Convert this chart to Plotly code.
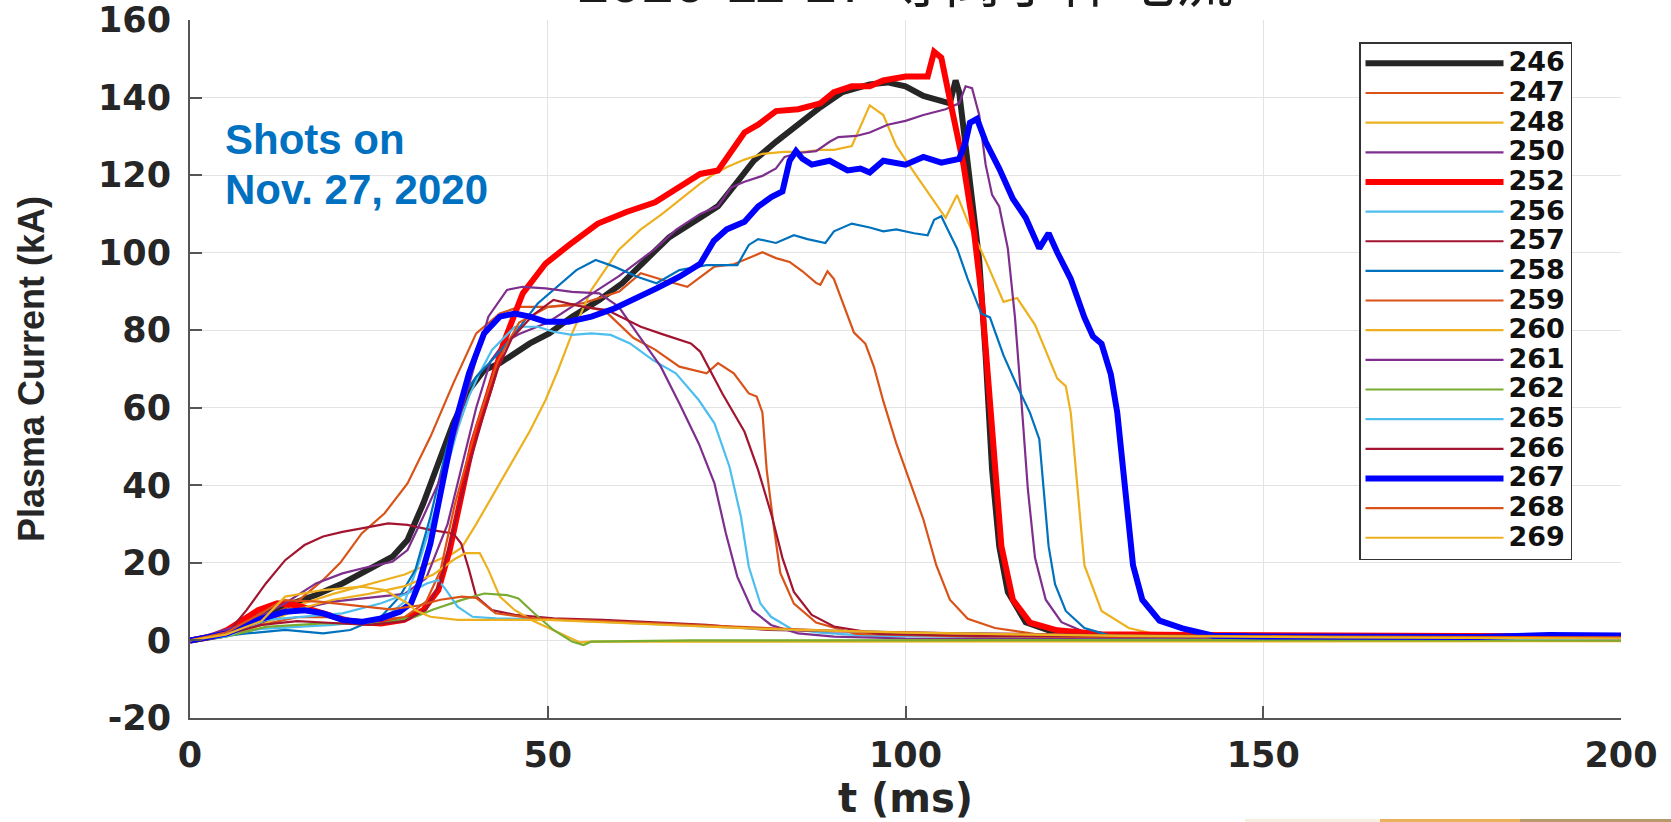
import plotly.graph_objects as go

# ---------------- data ----------------
shots = ["246", "247", "248", "250", "252", "256", "257", "258", "259",
         "260", "261", "262", "265", "266", "267", "268", "269"]

t_246 = [0, 3, 5, 8, 10, 13, 17.6, 21.3, 25, 28.3, 30.4, 32.6, 34.7, 36.8, 39, 41.1, 43.3, 45.4, 47.5, 50.2, 53.4, 57.2, 60.4, 64.2, 67, 71.3, 73.8, 76.3, 78.8, 81.9, 85, 88.1, 91.2, 95, 97.5, 100, 102.5, 105, 106.2, 107, 107.5, 108.4, 109.3, 110.3, 111.2, 112.1, 113.1, 114.3, 116.8, 120.6, 127.4, 140, 160, 180, 200]
i_246 = [0, 0.8, 1.5, 4.4, 6.5, 8.7, 11.7, 14.7, 18.2, 21.6, 25.9, 35.3, 45.7, 56, 64.6, 69.7, 71.5, 74, 76.6, 79.2, 83.5, 87.8, 92.1, 99, 104, 109, 112, 117.8, 123.7, 128.6, 133, 137.5, 141.4, 143.4, 143.9, 142.9, 140.4, 139, 138.5, 144.4, 141.4, 127.6, 112.9, 98.1, 73.5, 44, 24.3, 12.5, 4.7, 2.2, 1.2, 1.0, 0.9, 0.8, 0.7]

t_247 = [0, 5, 10, 15, 18.6, 21, 24, 27.2, 30.4, 33.6, 36.8, 40, 43.3, 46, 50, 55, 60, 63, 66, 69.5, 73.3, 76, 78.1, 80, 81.9, 83.8, 85.6, 87.5, 88.1, 89.1, 90, 91.2, 92.8, 94.4, 95.6, 96.9, 98.7, 100.6, 102.5, 104.3, 106.2, 108.7, 112.5, 118, 130, 160, 200]
i_247 = [0, 1.5, 5, 10, 15.6, 20, 27.6, 32.8, 40.5, 52.5, 66.3, 79.2, 84.3, 86, 86, 87, 90, 94.7, 93, 91.2, 96.4, 97, 98.6, 100.1, 98.6, 97.6, 95.2, 92.2, 91.7, 95.2, 93.2, 87.3, 79.4, 76.5, 70.5, 61.7, 50.9, 41, 31.2, 19.4, 10.5, 5.6, 3.2, 1.7, 1, 0.6, 0.4]

t_248 = [0, 5, 10, 15, 20, 25, 30, 33.6, 36.8, 38, 40, 42.5, 45.4, 47.5, 49.7, 51.5, 53.4, 56.1, 59.9, 63, 66, 68, 71.3, 73, 75, 77.5, 80, 83, 86, 88, 90, 92.5, 95, 96.9, 98.7, 101.2, 103.7, 105.6, 107.2, 108.7, 111.2, 113.7, 115.6, 118.1, 121.2, 122.4, 123.1, 124, 125, 127.4, 131.2, 136.8, 150, 180, 200]
i_248 = [0, 1.5, 5, 9, 12, 14.5, 17, 19.9, 22.5, 24, 30, 38, 47.4, 54, 62, 70, 79.2, 90.4, 100.7, 106, 110, 113, 117.8, 120, 122, 124, 125.5, 126, 126, 126.5, 126.5, 127.5, 138, 135.5, 127.6, 120.7, 113.9, 109, 114.9, 108, 98, 87.3, 88.3, 81.4, 67.6, 65.6, 58.7, 39, 19.4, 7.6, 3.2, 0.8, 0.6, 0.5, 0.4]

t_250 = [0, 5, 10, 15, 20, 25, 30, 33, 36, 38, 40, 42, 44, 46, 50, 55, 60, 65, 68, 71.3, 73.8, 75.6, 77.5, 80, 81.9, 83.1, 85, 87.5, 89.4, 90.6, 93.1, 95, 97.5, 100, 102.5, 105.6, 107.5, 108.4, 109.3, 110.3, 111.2, 112.1, 113.1, 114.3, 115.3, 116.2, 117.1, 118.1, 119.6, 121.8, 125.6, 140, 170, 200]
i_250 = [0, 1.5, 4.5, 8, 10, 11, 12, 16, 30, 45, 60, 72, 77, 79, 82, 88, 94, 101, 106, 110, 112, 116.8, 118.3, 119.8, 121.7, 124.7, 125.7, 126.2, 128.6, 129.8, 130.1, 131, 133, 134, 135.5, 137, 138.5, 142.9, 142.4, 135.5, 122.7, 114.9, 111.9, 101.1, 83.3, 61.7, 39, 21.3, 10.5, 4.7, 1.7, 0.5, 0.3, 0.2]

t_252 = [0, 3, 5.2, 7.5, 9.5, 12.2, 14.9, 18.6, 22.4, 26.7, 29.9, 32.6, 34.7, 36.3, 37.9, 39.5, 41.7, 43.8, 46.5, 49.7, 53, 57, 61, 65, 68, 71.3, 73.8, 75.6, 77.5, 79.4, 81.9, 85, 88.1, 90, 92.5, 95, 96.9, 100, 103.1, 104, 105, 106.2, 108.1, 109.6, 110.6, 111.5, 112.5, 113.4, 115, 117.4, 121.2, 127.4, 140, 160, 180, 200]
i_252 = [0, 1, 2.7, 5.5, 7.8, 9.6, 9.1, 7, 4.9, 4.4, 5.3, 7.8, 13, 23.3, 37, 50.8, 63.7, 76.6, 89.5, 97.2, 102, 107.5, 110.5, 113, 116.5, 120.3, 121.2, 125.7, 131, 133, 136.5, 137, 138.5, 141.4, 142.9, 142.9, 144.4, 145.4, 145.4, 151.8, 150.3, 139.5, 122.7, 105, 89.3, 68.6, 44, 24.3, 10.5, 4.6, 2.6, 1.6, 1.4, 1.3, 1.2, 1.0]

t_256 = [0, 5, 10, 15, 20, 25, 28, 30, 32, 34, 35.8, 37.5, 39, 40.5, 42.2, 45.4, 48.6, 50.8, 53.4, 56.1, 58.8, 61.5, 64.7, 67.9, 71.1, 73.3, 75.4, 77, 78.1, 79.7, 81.2, 84, 88, 95, 120, 160, 200]
i_256 = [0, 1.5, 3, 3.5, 4, 5, 7, 10, 20, 32, 44, 55, 63, 69, 74.9, 80.9, 80.9, 79.6, 78.8, 79.2, 78.8, 76.6, 72.3, 68.9, 62, 56, 44.8, 31.9, 19, 9.6, 6.1, 3, 2, 1.2, 0.8, 0.5, 0.4]

t_257 = [0, 5.2, 7.9, 10.6, 13.3, 16, 18.6, 21.3, 24, 27.7, 30.4, 33.6, 36.8, 37.9, 39, 40, 42.2, 45.4, 50.8, 57.7, 72.2, 80.8, 100, 120, 150, 200]
i_257 = [0, 1.8, 7.8, 14.7, 20.7, 24.6, 26.8, 28, 28.9, 30.2, 29.8, 28.5, 27.6, 25, 18.2, 11.3, 7.8, 6.6, 5.7, 5.3, 4, 2.7, 2, 1.6, 1.2, 0.9]

t_258 = [0, 7.9, 13.3, 18.6, 22.4, 26.7, 29.3, 31.5, 33.6, 35.8, 37.9, 40, 42.7, 45.4, 48.6, 51.3, 54, 56.7, 59.3, 62.5, 65.2, 68.4, 72.2, 76.5, 78.1, 79.4, 81.9, 84.4, 86.3, 88.8, 90, 92.5, 95, 96.9, 98.7, 101.2, 103.1, 104, 105, 105.9, 107.2, 108.7, 110.6, 111.8, 113.7, 115.6, 117.4, 118.7, 119.3, 120, 120.9, 122.4, 125, 128.7, 140, 170, 200]
i_258 = [0, 1.8, 2.7, 1.8, 2.7, 6.1, 11.3, 18.2, 31.9, 49.1, 62, 68, 73.2, 79.2, 86.9, 91.2, 95.5, 98.1, 96.4, 93.8, 92.1, 95.5, 96.8, 96.8, 102, 103.5, 102.5, 104.5, 103.5, 102.5, 105.5, 107.5, 106.5, 105.5, 106, 105, 104.5, 108.5, 109.4, 106, 101.1, 93.2, 84.3, 83.3, 73.5, 65.6, 58.7, 51.9, 39, 24.3, 14.5, 7.6, 3.2, 1.2, 0.8, 0.6, 0.5]

t_259 = [0, 5, 10, 15, 20, 25, 30, 33, 35, 37, 40, 43, 46, 50, 54, 58, 62, 65, 68.4, 72.2, 73.8, 76, 78.1, 79.2, 80, 80.6, 81.6, 82.5, 84.4, 87.5, 93.1, 110, 150, 200]
i_259 = [0, 1.5, 4, 6, 6, 5, 6, 10, 18, 35, 55, 72, 82, 86, 86.5, 85, 78, 75, 70.6, 68.9, 71.5, 68.9, 63.7, 62.9, 58.8, 44, 29.2, 17.4, 9.5, 4.6, 1.7, 1.0, 0.7, 0.5]

t_260 = [0, 5, 10, 15, 20, 25, 30, 34, 37, 38.5, 40.5, 41.7, 43.3, 45.4, 48, 50.8, 54.5, 56, 70, 100, 130, 160, 200]
i_260 = [0, 1, 4, 8, 10.5, 12, 14, 17, 21, 22.5, 22.5, 18.2, 11.3, 7.8, 5, 2.7, -0.5, -0.3, -0.3, -0.2, -0.3, -0.2, -0.2]

t_261 = [0, 7.9, 13.3, 17.6, 21.3, 25, 28.3, 30.4, 32.6, 34.7, 36.8, 39, 41.7, 44.3, 46.5, 49.7, 53.4, 57.2, 59.9, 62.5, 65.8, 68.4, 71.1, 73.3, 74.9, 76.5, 78.6, 81.2, 85, 90, 100, 130, 170, 200]
i_261 = [0, 4.4, 9.6, 14.7, 17.3, 19, 20.3, 23.3, 31.9, 40.5, 51.7, 66.3, 83.5, 90.4, 91.2, 90.8, 89.9, 89.5, 86.1, 79.2, 70.6, 61.1, 50.8, 40.5, 27.6, 16.4, 7.8, 4, 1.8, 1, 0.5, 0.3, 0.2, 0.1]

t_262 = [0, 5, 10.6, 18.6, 26.7, 31.5, 34, 37.9, 41.1, 44.3, 45.9, 48.1, 50.8, 53.4, 55, 56.1, 70, 100, 150, 200]
i_262 = [0, 1, 3.5, 4.4, 4.4, 6.1, 8, 10.4, 12.1, 11.7, 10.8, 7, 2.7, -0.3, -1.2, -0.3, 0, 0.1, 0.1, 0]

t_265 = [0, 5, 10.6, 16, 21.3, 26.7, 30.4, 33.1, 34.7, 35.8, 37.4, 39.5, 42.7, 50, 60, 80, 100, 130, 170, 200]
i_265 = [0, 1, 5.3, 6.1, 7, 9.6, 12.1, 14.7, 15.6, 13, 8.7, 6.1, 5.7, 5.4, 4.6, 3, 2, 1.2, 0.6, 0.4]

t_266 = [0, 5, 10, 15, 20, 25, 30, 33, 35, 37, 39, 41, 43, 45, 48, 50.8, 55, 58.3, 63, 66, 70, 71.3, 74.4, 77.5, 79.4, 81.3, 82.8, 84.4, 86.9, 90, 96.2, 110, 140, 170, 200]
i_266 = [0, 1.5, 4, 5, 4.5, 4, 5, 8, 15, 30, 45, 58, 70, 78, 84, 87.8, 86, 85.2, 80.9, 79, 76.6, 74.5, 63.7, 53.8, 44, 32.2, 21.3, 12.5, 6.6, 3.6, 1.7, 1.2, 1.0, 0.8, 0.6]

t_267 = [0, 5.2, 9.5, 13.3, 16, 18.6, 21.3, 24, 26.7, 29.3, 30.9, 32, 33.6, 35.2, 36.8, 39, 41.1, 43.3, 45.4, 47.5, 49.7, 52.9, 56.1, 59.3, 62.5, 65.2, 68.4, 71.3, 73.2, 75, 77.5, 79.4, 81.3, 82.8, 83.8, 84.7, 85.6, 86.9, 89.4, 91.9, 93.7, 95, 96.9, 100, 102.5, 105, 107.5, 108.4, 109, 110, 111.2, 113.1, 115, 116.8, 118.7, 120, 121.2, 123.1, 125, 126.2, 127.4, 128.7, 129.6, 130.2, 130.9, 131.8, 133.1, 135.5, 138.7, 143, 150, 160, 170, 180, 190, 200]
i_267 = [0, 1.8, 5.3, 7.4, 7.8, 7, 5.3, 4.8, 5.7, 7.4, 9.6, 14.7, 25, 38.8, 54.3, 68.9, 79.2, 83.5, 84.3, 83.5, 82.2, 82.2, 83.5, 85.6, 88.2, 90.8, 93.8, 97.1, 103, 106, 108, 111.9, 114.4, 115.8, 123.7, 126.2, 124.2, 122.7, 123.7, 121.2, 121.7, 120.7, 123.7, 122.7, 124.7, 123.2, 124.2, 128.6, 133.5, 134.5, 128.6, 121.7, 113.9, 109, 101.1, 105, 100.1, 93.2, 83.3, 78.4, 76.5, 68.6, 58.7, 48.9, 34.1, 19.4, 10.5, 5.1, 3.1, 1.2, 1.0, 0.9, 1.0, 0.9, 1.4, 1.3]

t_268 = [0, 5, 10, 13, 18, 24, 28, 32, 35, 38, 40, 42.7, 48, 55, 70, 90, 110, 130, 160, 200]
i_268 = [0, 2, 7, 10.4, 10, 8.7, 8, 9, 10.5, 11.3, 11, 7, 5.7, 5.2, 4, 2.5, 1.7, 1.3, 1, 0.8]

t_269 = [0, 5, 10, 13.3, 18.6, 24, 27.2, 30.4, 31.5, 33.6, 37.4, 45, 50, 60, 80, 100, 130, 160, 200]
i_269 = [0, 1.5, 5, 11.3, 13, 13.9, 13, 9.6, 7.8, 6.1, 5.3, 5.3, 5.3, 4.5, 3, 2, 1.2, 0.8, 0.5]

x_ticks = [0, 50, 100, 150, 200]
y_ticks = [-20, 0, 20, 40, 60, 80, 100, 120, 140, 160]

title_text = "2020-11-27 等离子体电流"
note_lines = ["Shots on", "Nov. 27, 2020"]

series = {
    "246": (t_246, i_246), "247": (t_247, i_247), "248": (t_248, i_248),
    "250": (t_250, i_250), "252": (t_252, i_252), "256": (t_256, i_256),
    "257": (t_257, i_257), "258": (t_258, i_258), "259": (t_259, i_259),
    "260": (t_260, i_260), "261": (t_261, i_261), "262": (t_262, i_262),
    "265": (t_265, i_265), "266": (t_266, i_266), "267": (t_267, i_267),
    "268": (t_268, i_268), "269": (t_269, i_269),
}

# ---------------- styles ----------------
colors = {
    "246": "#262626", "247": "#D95319", "248": "#EDB120", "250": "#7E2F8E",
    "252": "#FF0000", "256": "#4DBEEE", "257": "#A2142F", "258": "#0072BD",
    "259": "#D95319", "260": "#EDB120", "261": "#7E2F8E", "262": "#77AC30",
    "265": "#4DBEEE", "266": "#A2142F", "267": "#0000FF", "268": "#D95319",
    "269": "#EDB120",
}
thick = {"246", "252", "267"}

W, H = 1671, 822
L, R, T, B = 190, 50, 20, 104
pw, ph = W - L - R, H - T - B


def px(x):
    return (x - L) / pw


def py(y):
    return (H - B - y) / ph


fig = go.Figure()
for s in shots:
    t, v = series[s]
    fig.add_trace(go.Scatter(
        x=t, y=v, mode="lines",
        name="<span style='font-size:27px'>" + s + "</span>",
        line=dict(color=colors[s], width=6 if s in thick else 2.2),
    ))

tick_font = dict(family="DejaVu Sans", size=35, color="#262626", weight="bold")

fig.update_xaxes(
    range=[0, 200], tickvals=x_ticks, ticktext=[str(v) for v in x_ticks],
    showgrid=True, gridcolor="#e3e3e3", gridwidth=1,
    showline=True, linecolor="#555555", linewidth=2,
    ticks="inside", ticklen=12, tickcolor="#555555", tickwidth=1.5,
    zeroline=False, tickfont=tick_font, ticklabelstandoff=5, automargin=False,
    title=dict(text="t (ms)", font=dict(family="DejaVu Sans", size=40, color="#262626", weight="bold"),
               standoff=8),
)
fig.update_yaxes(
    range=[-20, 160], tickvals=y_ticks, ticktext=[str(v) for v in y_ticks],
    showgrid=True, gridcolor="#e3e3e3", gridwidth=1,
    showline=True, linecolor="#555555", linewidth=2,
    ticks="inside", ticklen=12, tickcolor="#555555", tickwidth=1.5,
    zeroline=False, tickfont=tick_font, ticklabelstandoff=10, automargin=False,
    title=dict(text="Plasma Current (kA)",
               font=dict(family="Liberation Sans", size=36, color="#262626", weight="bold"),
               standoff=42),
)

# thin strip of a neighbouring picture visible at the bottom-right edge
strip = [(1245, 1380, "#f5f0e0"), (1380, 1520, "#eab25a"), (1520, 1671, "#b8996c")]
shapes = [dict(type="rect", xref="paper", yref="paper",
               x0=px(a), x1=px(b), y0=py(819), y1=py(822),
               line=dict(width=0), fillcolor=c, layer="above")
          for a, b, c in strip]

fig.update_layout(
    width=W, height=H,
    margin=dict(l=L, r=R, t=T, b=B, autoexpand=False),
    paper_bgcolor="white", plot_bgcolor="white",
    showlegend=True,
    shapes=shapes,
    legend=dict(
        x=px(1359), y=py(42), xanchor="left", yanchor="top",
        bgcolor="white", bordercolor="#333333", borderwidth=1.5,
        font=dict(family="DejaVu Sans", size=20.5, color="#111111", weight="bold"),
        itemwidth=138, tracegroupgap=0,
    ),
    annotations=[
        dict(text=title_text, xref="paper", yref="paper", x=0.5, y=py(16),
             xanchor="center", yanchor="bottom", showarrow=False,
             font=dict(family="Liberation Sans, Noto Sans CJK SC", size=58, color="#1a1a1a")),
        dict(text=note_lines[0], xref="paper", yref="paper", x=px(223), y=py(139),
             xanchor="left", yanchor="middle", showarrow=False,
             font=dict(family="Liberation Sans", size=42, color="#0070C0", weight="bold")),
        dict(text=note_lines[1], xref="paper", yref="paper", x=px(223), y=py(190),
             xanchor="left", yanchor="middle", showarrow=False,
             font=dict(family="Liberation Sans", size=42, color="#0070C0", weight="bold")),
    ],
)

fig.write_html("out.html", config={"displayModeBar": False},
               post_script="document.body.style.margin='0';")
